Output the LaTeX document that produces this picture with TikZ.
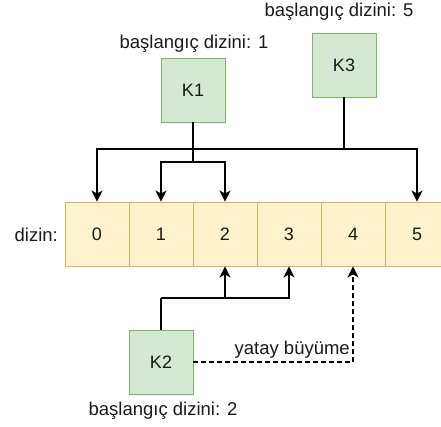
\documentclass[tikz,border=0pt]{standalone}
\usepackage{fontspec}
\setmainfont{Liberation Sans}
\usetikzlibrary{arrows.meta}
\definecolor{keyfill}{HTML}{D5E8D4}
\definecolor{keyline}{HTML}{82B366}
\definecolor{cellfill}{HTML}{FFF2CC}
\definecolor{cellline}{HTML}{D6B656}
\definecolor{ink}{HTML}{1A1A1A}
\tikzset{
  keybox/.style={draw=keyline, fill=keyfill, line width=0.9pt, minimum width=64pt, minimum height=64pt, inner sep=0pt, text=ink, font=\fontsize{18}{20}\selectfont},
  cell/.style={draw=cellline, fill=cellfill, line width=0.9pt, minimum width=64pt, minimum height=64pt, inner sep=0pt, text=ink, font=\fontsize{18}{20}\selectfont},
  lbl/.style={text=ink, inner sep=0pt, font=\fontsize{18.5}{20}\selectfont},
  link/.style={draw=black, line width=1.3pt},
  arr/.style={link, -{Stealth[length=11pt, width=11pt, inset=3pt]}},
}
\begin{document}
\begin{tikzpicture}[x=1pt, y=-1pt]
  \useasboundingbox (0,0) rectangle (441,427);
  \clip (0,0) rectangle (441,427);

  % array cells
  \foreach \i in {0,...,5} {
    \node[cell] (c\i) at ({97+64*\i},234) {\i};
  }
  \node[lbl, anchor=east] (dz) at (58,235) {dizin:};

  % keys
  \node[keybox] (K1) at (193,90) {K1};
  \node[keybox] (K3) at (344,65) {K3};
  \node[keybox] (K2) at (161,362) {K2};

  \node[lbl] (l1) at (194,44) {başlangıç dizini: 1};
  \node[lbl] (l3) at (339,12) {başlangıç dizini: 5};
  \node[lbl] (l2) at (163,411) {başlangıç dizini: 2};

  % branch points
  \coordinate (j3) at (344,149);
  \coordinate (j1) at (193,162);
  \coordinate (j2) at (161,298);

  % K3 -> cells 5 and 0
  \draw[link] (K3.south) -- (j3);
  \draw[arr] (j3) -| (c5.north);
  \draw[arr] (j3) -| (c0.north);

  % K1 -> cells 1 and 2
  \draw[link] (K1.south) -- (j1);
  \draw[arr] (j1) -| (c1.north);
  \draw[arr] (j1) -| (c2.north);

  % K2 -> cells 2 and 3
  \draw[link] (K2.north) -- (j2);
  \draw[arr] (j2) -| (c2.south);
  \draw[arr] (j2) -| (c3.south);

  % horizontal growth towards cell 4
  \draw[arr, dashed, dash pattern=on 5pt off 3pt] (K2.east) -| (c4.south);
  \node[lbl, anchor=base east] (gr) at (350,354) {yatay büyüme};
\end{tikzpicture}
\end{document}
